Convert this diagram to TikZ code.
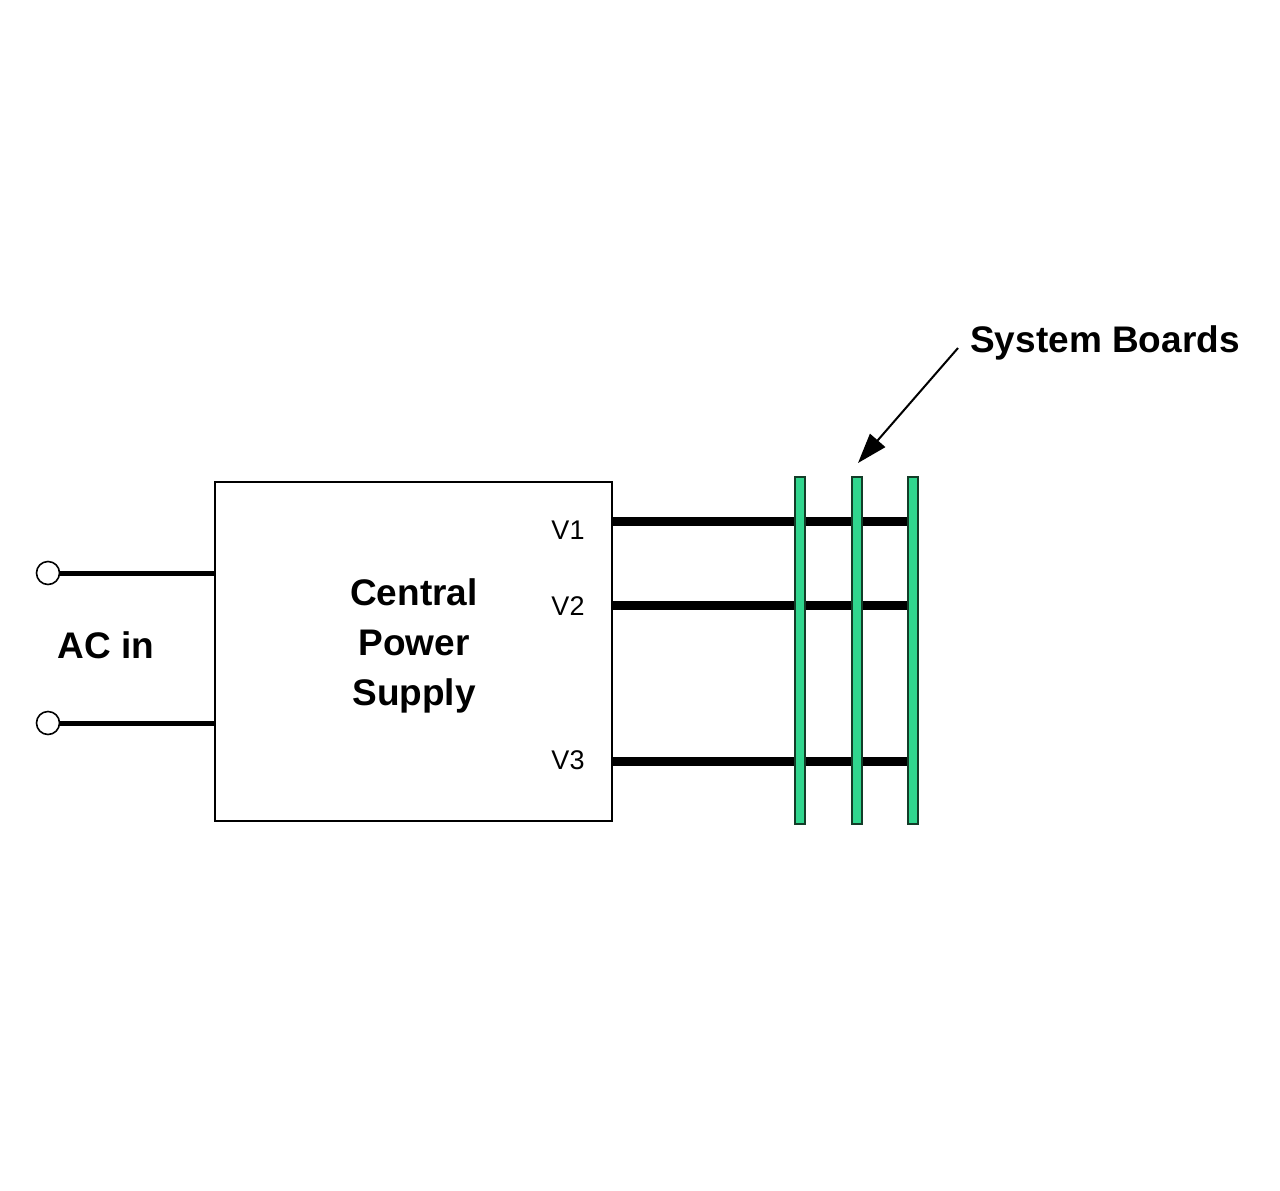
\documentclass[tikz,border=0pt]{standalone}
\usepackage{fontspec}
\setmainfont{Liberation Sans}
\usetikzlibrary{arrows.meta,calc}
\definecolor{boardgreen}{RGB}{48,214,142}
\definecolor{boardedge}{RGB}{20,60,40}
\tikzset{
  boxstyle/.style={draw=black,line width=1.2pt,fill=white,minimum width=198.5pt,minimum height=169.5pt,inner sep=0pt},
  boardstyle/.style={draw=boardedge,line width=0.7pt,fill=boardgreen,minimum width=5pt,minimum height=173.5pt,inner sep=0pt},
  terminal/.style={circle,draw=black,line width=0.8pt,fill=white,minimum size=11.5pt,inner sep=0pt},
  acline/.style={line width=2.5pt},
  vline/.style={line width=4.5pt},
  bigtext/.style={font=\bfseries\fontsize{18.5pt}{25pt}\selectfont,align=center},
  vtext/.style={font=\fontsize{13.5pt}{16pt}\selectfont},
  pointer/.style={line width=1pt,-{Triangle[length=15pt,width=10pt]}}
}
\begin{document}
\begin{tikzpicture}[x=0.5pt,y=-0.5pt]
\useasboundingbox (0,0) rectangle (1280,1190);
% power supply box
\node[boxstyle] (psu) at (413.5,651.5) {};
\node[bigtext] (label) at (414,646) {Central\\Power\\Supply};
% AC input terminals
\node[terminal] (t1) at (48,573) {};
\node[terminal] (t2) at (48,723) {};
\draw[acline] (t1.east) -- (t1.east -| psu.west);
\draw[acline] (t2.east) -- (t2.east -| psu.west);
\node[bigtext] (acin) at (106,645) {AC in};
% boards
\node[boardstyle] (b1) at (800,650.5) {};
\node[boardstyle] (b2) at (857,650.5) {};
\node[boardstyle] (b3) at (913,650.5) {};
% voltage rails
\coordinate (v1) at (612,521);
\coordinate (v2) at (612,605);
\coordinate (v3) at (612,761);
\draw[vline] (v1) -- (v1 -| b3.west);
\draw[vline] (v2) -- (v2 -| b3.west);
\draw[vline] (v3) -- (v3 -| b3.west);
% boards drawn over the rails
\node[boardstyle] at (b1) {};
\node[boardstyle] at (b2) {};
\node[boardstyle] at (b3) {};
\node[vtext] (l1) at (568,530) {V1};
\node[vtext] (l2) at (568,606) {V2};
\node[vtext] (l3) at (568,760) {V3};
% system boards label
\node[bigtext] (sys) at (1105,343) {System Boards};
\coordinate (ptip) at (858,463);
\coordinate (ptail) at (958,348);
\draw[pointer] (ptail) -- (ptip);
\end{tikzpicture}
\end{document}
